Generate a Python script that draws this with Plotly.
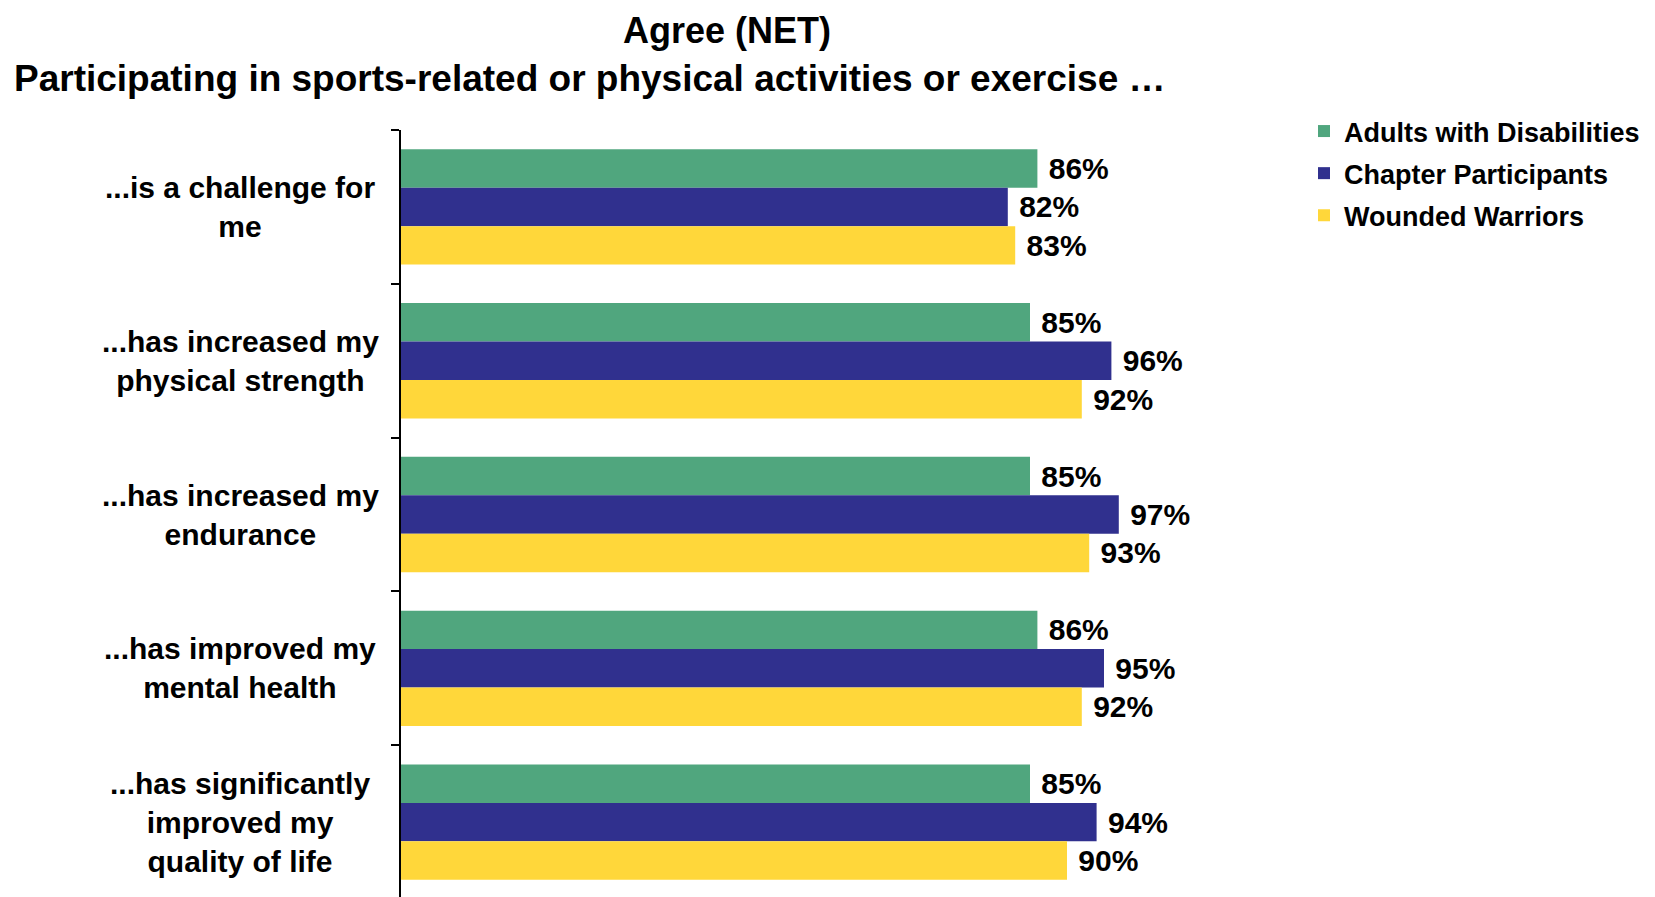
import plotly.graph_objects as go

categories = [
    "...is a challenge for<br>me",
    "...has increased my<br>physical strength",
    "...has increased my<br>endurance",
    "...has improved my<br>mental health",
    "...has significantly<br>improved my<br>quality of life",
]
series_names = ["Adults with Disabilities", "Chapter Participants", "Wounded Warriors"]
adults = [86, 85, 85, 86, 85]
chapter = [82, 96, 97, 95, 94]
wounded = [83, 92, 93, 92, 90]
colors = ["#50A67E", "#30308E", "#FFD73A"]

FONT = "Liberation Sans, Arial, sans-serif"
ypos = list(range(len(categories)))
boundaries = [i - 0.5 for i in range(len(categories) + 1)]

# page offset (browser body margin) compensation
OFF = 8
L, T = 401 - OFF, 130 - OFF
PW = 740
PH = 897 - T
CAT_PX = 153.8

fig = go.Figure()
for i, (name, vals) in enumerate(zip(series_names, [adults, chapter, wounded])):
    fig.add_trace(go.Bar(
        y=ypos, x=vals, name=name, orientation="h",
        marker=dict(color=colors[i], line=dict(width=0)),
        text=[f"\u00a0{v}%" for v in vals], textposition="outside",
        textfont=dict(family=FONT, size=30, color="black", weight="bold"),
        constraintext="none", cliponaxis=False,
        legendgroup=name,
    ))

def px_x(px):
    return (px - OFF - L) / PW

def px_y(py):
    return 1 - (py - OFF - T) / PH

for yi, cat in zip(ypos, categories):
    fig.add_annotation(x=px_x(240), xref="paper", y=yi, yref="y", text=cat,
                       showarrow=False, xanchor="center", yanchor="middle", align="center",
                       font=dict(family=FONT, size=30, color="black", weight="bold"))

fig.add_annotation(text="Agree (NET)", xref="paper", yref="paper",
                   x=px_x(727), y=px_y(30), xanchor="center", yanchor="middle",
                   showarrow=False, font=dict(family=FONT, size=36, color="black", weight="bold"))
fig.add_annotation(text="Participating in sports-related or physical activities or exercise \u2026",
                   xref="paper", yref="paper",
                   x=px_x(12), y=px_y(79), xanchor="left", yanchor="middle",
                   showarrow=False, font=dict(family=FONT, size=37, color="black", weight="bold"))

fig.update_layout(
    width=1655, height=897,
    margin=dict(l=L, r=1655 - L - PW, t=T, b=0, pad=0),
    plot_bgcolor="white", paper_bgcolor="white",
    barmode="group", bargap=0.25, bargroupgap=0,
    showlegend=True,
    legend=dict(x=px_x(1304), y=px_y(107), xanchor="left", yanchor="top",
                font=dict(family=FONT, size=27, color="black", weight="bold"),
                tracegroupgap=4, bgcolor="rgba(0,0,0,0)"),
    xaxis=dict(range=[0, 100], visible=False),
    yaxis=dict(range=[-0.5 + PH / CAT_PX, -0.5], tickmode="array", tickvals=boundaries,
               showticklabels=False, ticks="outside", ticklen=8, tickwidth=2, tickcolor="black",
               showline=True, linecolor="black", linewidth=2, showgrid=False, zeroline=False),
)

fig.write_html("out.html")
